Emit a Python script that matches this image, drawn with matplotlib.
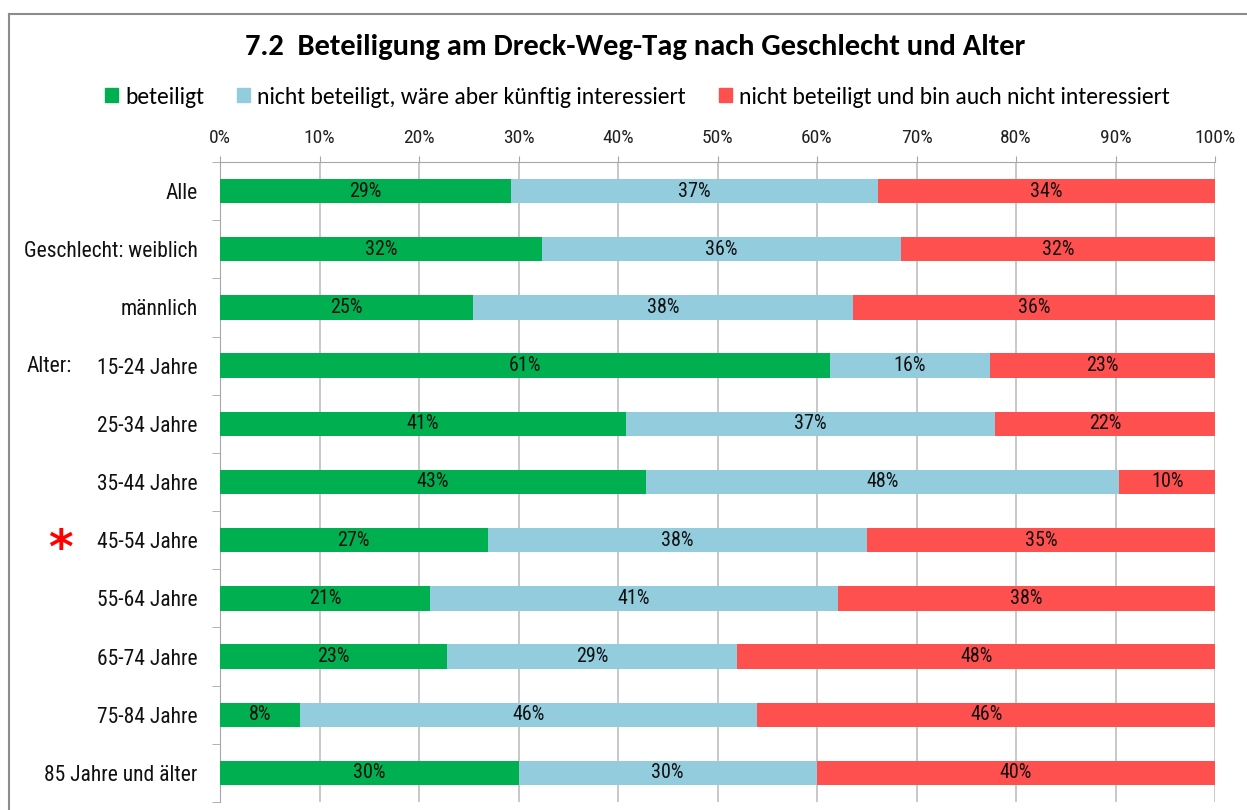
import matplotlib
matplotlib.use('Agg')
import matplotlib.pyplot as plt
from matplotlib.lines import Line2D
from matplotlib.patches import Patch
import numpy as np

categories = ['Alle', 'Geschlecht: weiblich', 'männlich', '15-24 Jahre', '25-34 Jahre',
              '35-44 Jahre', '45-54 Jahre', '55-64 Jahre', '65-74 Jahre', '75-84 Jahre',
              '85 Jahre und älter']
beteiligt = [29.2, 32.4, 25.4, 61.3, 40.8, 42.8, 26.9, 21.1, 22.8, 8.0, 30.0]
interessiert = [36.9, 36.0, 38.2, 16.1, 37.1, 47.6, 38.1, 41.0, 29.2, 46.0, 30.0]
nicht_interessiert = [33.9, 31.6, 36.4, 22.6, 22.1, 9.6, 35.0, 37.9, 48.0, 46.0, 40.0]
series_names = ['beteiligt', 'nicht beteiligt, wäre aber künftig interessiert',
                'nicht beteiligt und bin auch nicht interessiert']
colors = ['#00B050', '#93CDDD', '#FF5050']
xticks = [0, 10, 20, 30, 40, 50, 60, 70, 80, 90, 100]

narrow = ['Roboto Condensed', 'Archivo Narrow', 'DejaVu Sans']
calib = ['Carlito', 'Lato', 'DejaVu Sans']

fig = plt.figure(figsize=(12.47, 8.10), dpi=100)
ax = fig.add_axes([220 / 1247, 1 - 802 / 810, 995 / 1247, 640 / 810])

y = np.arange(len(categories))
left = np.zeros(len(categories))
for vals, name, col in zip([beteiligt, interessiert, nicht_interessiert], series_names, colors):
    vals = np.array(vals)
    ax.barh(y, vals, left=left, height=0.42, color=col, label=name, zorder=3)
    for yi, l, v in zip(y, left, vals):
        ax.text(l + v / 2, yi, '{:.0f}%'.format(v), ha='center', va='center',
                fontsize=14.5, family=narrow, color='#111111', zorder=4)
    left = left + vals

ax.set_xlim(0, 100)
ax.set_ylim(len(categories) - 0.5, -0.5)
ax.xaxis.tick_top()
ax.set_xticks(xticks)
ax.set_xticklabels(['{}%'.format(t) for t in xticks], family=narrow, fontsize=14, color='#222222')
ax.set_yticks(y)
ax.set_yticklabels(categories, family=narrow, fontsize=15.5, color='#111111')
ax.set_yticks(np.arange(len(categories) + 1) - 0.5, minor=True)
ax.tick_params(axis='y', which='major', length=0, pad=16)
ax.tick_params(axis='y', which='minor', length=6, color='#A6A6A6')
ax.tick_params(axis='x', which='major', length=4, color='#A6A6A6', pad=7)
ax.grid(axis='x', color='#BFBFBF', linewidth=1.2, zorder=0)
for s in ['right', 'bottom']:
    ax.spines[s].set_visible(False)
for s in ['left', 'top']:
    ax.spines[s].set_color('#A6A6A6')

fig.text(72 / 1247, 1 - 366 / 810, 'Alter:', ha='right', va='center', family=narrow, fontsize=15.5, color='#111111')
fig.text(60 / 1247, 1 - 550 / 810, '*', ha='center', va='center', fontsize=34, color='#FF0000',
         family=['DejaVu Sans'], fontweight='bold')

fig.text(0.509, 1 - 47 / 810, '7.2  Beteiligung am Dreck-Weg-Tag nach Geschlecht und Alter',
         ha='center', va='center', family=calib, fontweight='bold', fontsize=22)

handles = [Patch(color=c) for c in colors]
fig.legend(handles, series_names, loc='center', bbox_to_anchor=(0.511, 1 - 97 / 810), ncol=3,
           frameon=False, prop={'family': calib, 'size': 17}, handlelength=0.55, handleheight=0.55,
           handletextpad=0.3, columnspacing=1.4)

# chart area border
fig.add_artist(Line2D([9 / 1247, 9 / 1247], [0, 1 - 14 / 810], color='#8C8C8C', linewidth=1.5))
fig.add_artist(Line2D([9 / 1247, 1], [1 - 14 / 810, 1 - 14 / 810], color='#8C8C8C', linewidth=1.5))

fig.savefig('out.png', dpi=100)
